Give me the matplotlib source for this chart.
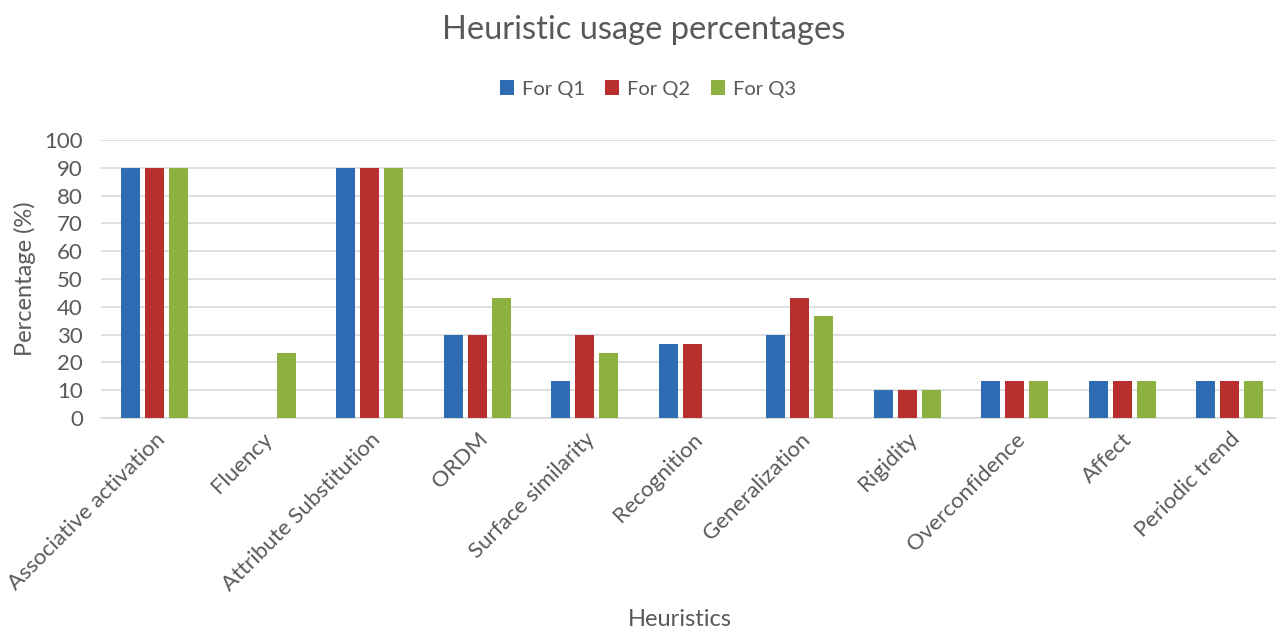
import matplotlib
matplotlib.use("Agg")
import matplotlib.pyplot as plt
import numpy as np

categories = ["Associative activation", "Fluency", "Attribute Substitution", "ORDM",
              "Surface similarity", "Recognition", "Generalization", "Rigidity",
              "Overconfidence", "Affect", "Periodic trend"]
q1 = [90, 0, 90, 30, 13.3, 26.7, 30, 10, 13.3, 13.3, 13.3]
q2 = [90, 0, 90, 30, 30, 26.7, 43.3, 10, 13.3, 13.3, 13.3]
q3 = [90, 23.3, 90, 43.3, 23.3, 0, 36.7, 10, 13.3, 13.3, 13.3]
series_names = ["For Q1", "For Q2", "For Q3"]
colors = ["#2E6DB4", "#B7302E", "#8DB140"]

plt.rcParams['font.family'] = ['Lato', 'DejaVu Sans']
W, H = 1276, 629
fig = plt.figure(figsize=(W/100, H/100), dpi=100)
left = 101/W
ax = fig.add_axes([left, 1-418/H, 1-left, (418-140)/H])

x = np.arange(len(categories))
off = 0.223
bw = 0.18
for i, (vals, name, c) in enumerate(zip([q1, q2, q3], series_names, colors)):
    ax.bar(x + (i-1)*off, vals, width=bw, color=c, label=name, zorder=3)

ax.set_xlim(-0.5, -0.5 + (W-101)/107.5)
ax.set_ylim(0, 100)
ax.set_yticks(range(0, 101, 10))
ax.yaxis.grid(True, color="#D9D9D9", linewidth=1.2, zorder=0)
for s in ["top", "right", "left"]:
    ax.spines[s].set_visible(False)
ax.spines["bottom"].set_color("#D9D9D9")
ax.spines["bottom"].set_linewidth(1.2)
ax.tick_params(axis="both", length=0, labelsize=16, colors="#595959")
ax.set_xticks(x)
ax.set_xticklabels(categories, rotation=45, ha="right", rotation_mode="anchor")
ax.tick_params(axis="x", pad=8)
ax.tick_params(axis="y", pad=13)
ax.set_ylabel("Percentage (%)", fontsize=17, color="#595959", labelpad=6)
fig.text(680/W, 1-620/H, "Heuristics", ha="center", va="center", fontsize=17, color="#595959")
fig.text(644/W, 1-30/H, "Heuristic usage percentages", ha="center", va="center", fontsize=23.5, color="#595959")
leg = fig.legend(loc="center", bbox_to_anchor=(648/W, 1-89/H), ncol=3, frameon=False,
                 fontsize=14.5, handlelength=0.7, handleheight=0.7, columnspacing=1.0,
                 handletextpad=0.4, labelcolor="#595959")
fig.savefig("out.png", dpi=100)
